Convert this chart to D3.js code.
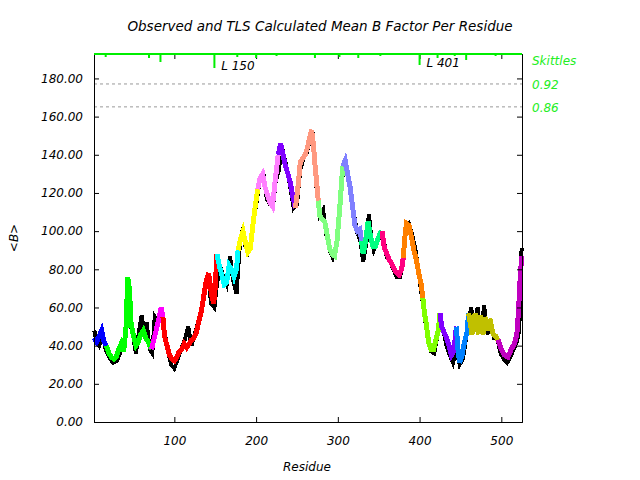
<!DOCTYPE html>
<html>
<head>
<meta charset="utf-8">
<script src="https://cdn.jsdelivr.net/npm/d3@7"></script>
<style>
  body { margin: 0; background: #fff; }
  text { font-family: "DejaVu Sans", sans-serif; font-style: italic; font-size: 12px; }
</style>
</head>
<body>
<div id="chart"></div>
<script>
// observed mean B per residue (black)
var obsResidue = [2,5,8,12,16,20,25,30,35,40,43,47,50,53,57,60,63,66,70,73,76,80,85,88,92,96,100,104,108,112,117,121,125,129,133,137,141,145,149,152,156,160,164,168,172,176,180,184,187,190,194,198,201,205,209,213,217,221,224,228,231,235,239,243,246,250,254,258,262,266,269,272,274,278,282,286,290,294,298,302,305,308,312,316,320,324,328,331,335,338,341,344,348,352,356,360,364,368,372,376,379,383,387,391,395,399,402,406,410,414,418,422,425,429,433,437,441,445,449,453,457,460,463,467,471,475,479,483,487,491,495,499,503,507,511,515,519,522,524,525];
var obsB = [48,42,40,46,38,34,31,32,38,45,74,50,44,36,48,56,47,52,38,36,55,52,58,47,38,30,28,33,38,42,50,40,46,52,57,70,78,62,60,72,82,76,72,87,74,67,92,102,92,89,95,108,116,128,130,117,114,114,126,132,145,138,130,120,112,114,132,138,141,148,152,136,122,108,111,98,90,86,90,110,126,136,131,120,108,99,94,84,94,109,96,90,94,98,96,86,84,80,76,76,82,102,104,98,90,78,68,56,44,37,36,46,52,48,40,35,31,38,30,33,44,52,60,48,60,46,61,46,52,44,44,36,33,31,34,38,42,48,86,91];

// TLS calculated mean B per residue (coloured by group)
var calcResidue = [2,5,8,11,14,17,20,23,26,29,32,35,38,41,43,45,47,50,53,56,59,62,65,68,70,72,76,80,84,86,88,91,94,97,100,103,106,109,112,115,118,121,124,127,130,133,136,139,142,145,148,150,152,155,158,161,164,167,170,173,176,178,181,184,187,190,193,196,199,202,205,208,211,214,217,220,223,227,230,233,236,239,242,245,248,251,254,257,260,263,266,268,270,272,274,276,278,281,284,287,290,293,296,299,302,304,306,309,312,315,318,321,324,327,329,331,334,337,340,343,346,349,352,354,357,360,363,366,369,372,375,378,380,382,384,387,390,393,396,399,402,404,406,408,411,414,417,420,423,425,427,430,433,436,439,442,445,447,449,452,455,458,460,462,464,466,468,470,472,474,476,478,480,482,484,486,488,490,493,496,500,504,508,512,516,519,521,523,525];
var calcB = [44,42,45,48,42,40,36,34,33,34,38,41,37,50,76,70,52,45,40,42,46,48,44,42,40,38,45,52,60,55,45,40,35,33,32,34,37,38,41,39,41,43,44,47,53,58,66,74,78,68,62,70,88,82,77,72,73,82,80,76,80,90,96,100,94,89,91,103,113,122,128,130,123,119,115,113,125,140,146,140,134,130,125,118,112,122,136,138,140,144,150,153,146,135,126,116,108,106,105,98,91,88,87,95,110,122,134,137,130,123,113,103,100,101,95,88,95,105,97,92,92,96,99,100,91,88,85,83,80,78,77,80,86,97,104,103,97,90,85,78,72,65,57,52,42,38,38,43,48,57,50,47,44,40,35,37,50,38,31,35,42,47,57,52,46,50,57,50,46,56,50,46,55,52,48,54,50,46,45,43,38,35,34,38,41,46,58,75,87];

// TLS groups: first residue of each group and its colour
var groupStart = [2,17,71,86,151,178,201,226,246,275,305,328,354,379,403,424,444,459,495];
var groupColor = ["#0000ff","#00ff00","#ff00ff","#ff0000","#00ffff","#ffff00","#ff80ff","#8000ff","#ff9980","#80ff80","#8080ff","#00ff80","#ff0080","#ff8000","#80ff00","#8000ff","#0080ff","#c0c000","#c000c0"];

// skittles marks along the top
var skittleResidue = [16,69,83,149,177,200,225,272,302,325,352,400,422,443,457,493];
var skittleSize = [2,3,7,13,2,3,1,3,2,3,1,10,3,1,5,1];
var markerLabels = [{res:150, text:"L 150"}, {res:401, text:"L 401"}];

var thresholdB = [177.1, 165.1];
var thresholdLabels = ["0.92","0.86"];
var yTicks = [0,20,40,60,80,100,120,140,160,180];
var xTicks = [100,200,300,400,500];

var w = 640, h = 480;
var pLeft = 94, pRight = 522, pTop = 54, pBottom = 422;

var svg = d3.select("#chart").append("svg")
	.attr("width", w)
	.attr("height", h);

var x = d3.scaleLinear().domain([1.7, 525.3]).range([pLeft, pRight]);
var y = d3.scaleLinear().domain([0, 192.8]).range([pBottom, pTop]);
var sk = d3.scaleLinear().domain([0, 1]).range([0, 1]);

// title and axis titles
svg.append("text")
	.attr("x", 320).attr("y", 31)
	.attr("text-anchor", "middle")
	.style("font-size", "13.5px")
	.text("Observed and TLS Calculated Mean B Factor Per Residue");
svg.append("text")
	.attr("x", 307).attr("y", 471)
	.attr("text-anchor", "middle")
	.text("Residue");
svg.append("text")
	.attr("transform", "translate(18,238) rotate(-90)")
	.attr("text-anchor", "middle")
	.text("<B>");

// threshold lines
svg.selectAll("line.thr")
	.data(thresholdB)
	.enter().append("line")
	.attr("class", "thr")
	.attr("x1", pLeft).attr("x2", pRight)
	.attr("y1", function(d){ return y(d); })
	.attr("y2", function(d){ return y(d); })
	.style("stroke", "#999")
	.style("stroke-dasharray", "3,3");

// observed line
var line = d3.line()
	.x(function(d){ return x(d[0]); })
	.y(function(d){ return y(d[1]); });

var obs = obsResidue.map(function(r, i){ return [r, obsB[i]]; });
svg.append("path")
	.attr("d", line(obs))
	.style("fill", "none")
	.style("stroke", "#000")
	.style("stroke-width", 4)
	.style("shape-rendering", "crispEdges");

// calculated line, one path per group
var calc = calcResidue.map(function(r, i){ return [r, calcB[i]]; });
groupStart.forEach(function(s, g){
	var e = g < groupStart.length - 1 ? groupStart[g+1] : 9999;
	var pts = calc.filter(function(d){ return d[0] >= s && d[0] < e; });
	var next = calc.find(function(d){ return d[0] >= e; });
	if (next) pts.push(next);
	svg.append("path")
		.attr("d", line(pts))
		.style("fill", "none")
		.style("stroke", groupColor[g])
		.style("stroke-width", 5)
		.style("shape-rendering", "crispEdges");
});

// axes with inward ticks
var fmt = d3.format(".2f");
svg.append("g")
	.attr("transform", "translate(" + pLeft + ",0)")
	.call(d3.axisLeft(y).tickValues(yTicks).tickFormat(fmt).tickSize(-5).tickPadding(11));
svg.append("g")
	.attr("transform", "translate(" + pRight + ",0)")
	.call(d3.axisRight(y).tickValues(yTicks).tickFormat("").tickSize(-5));
svg.append("g")
	.attr("transform", "translate(0," + pBottom + ")")
	.call(d3.axisBottom(x).tickValues(xTicks).tickFormat(d3.format("d")).tickSize(-5).tickPadding(14));
svg.append("g")
	.attr("transform", "translate(0," + pTop + ")")
	.call(d3.axisTop(x).tickValues(xTicks).tickFormat("").tickSize(-5));

svg.selectAll(".domain").style("stroke", "#000");
svg.selectAll(".tick line").style("stroke", "#000");
svg.selectAll(".tick text")
	.style("font-family", "DejaVu Sans")
	.style("font-style", "italic")
	.style("font-size", "12px")
	.style("fill", "#000");

// skittles along top
svg.append("line")
	.attr("x1", pLeft).attr("x2", pRight)
	.attr("y1", pTop).attr("y2", pTop)
	.style("stroke", "#00ee00")
	.style("stroke-width", 2);
svg.selectAll("line.sk")
	.data(skittleResidue)
	.enter().append("line")
	.attr("class", "sk")
	.attr("x1", function(d){ return x(d); })
	.attr("x2", function(d){ return x(d); })
	.attr("y1", pTop)
	.attr("y2", function(d, i){ return pTop + 1 + sk(skittleSize[i]); })
	.style("stroke", "#00ee00")
	.style("stroke-width", 2);

svg.selectAll("text.mk")
	.data(markerLabels)
	.enter().append("text")
	.attr("class", "mk")
	.attr("x", function(d){ return x(d.res) + 6; })
	.attr("y", function(d, i){ return i == 0 ? 70 : 67; })
	.text(function(d){ return d.text; });

// right-hand legend
svg.append("text")
	.attr("x", 532).attr("y", 65)
	.style("fill", "#22ee22")
	.text("Skittles");
svg.selectAll("text.thrl")
	.data(thresholdLabels)
	.enter().append("text")
	.attr("class", "thrl")
	.attr("x", 532)
	.attr("y", function(d, i){ return y(thresholdB[i]) + 5; })
	.style("fill", "#22ee22")
	.text(function(d){ return d; });
</script>
</body>
</html>
